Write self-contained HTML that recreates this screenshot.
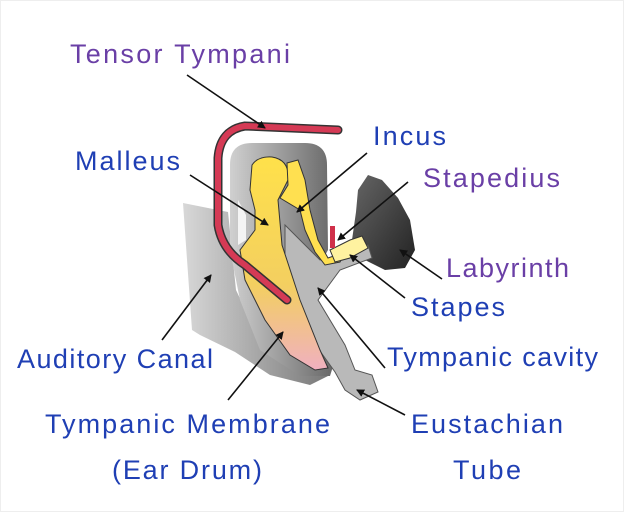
<!DOCTYPE html>
<html><head><meta charset="utf-8"><style>
html,body{margin:0;padding:0;background:#fff;}
svg{display:block;}
text{font-family:"Liberation Sans",sans-serif;font-size:27px;}
.b{fill:#1f3fb4}.p{fill:#6a3fa6}
</style></head><body>
<svg width="624" height="512" viewBox="0 0 624 512" xmlns="http://www.w3.org/2000/svg">
<defs>
<linearGradient id="g1" x1="0" y1="0" x2="1" y2="0"><stop offset="0" stop-color="#d8d8d8"/><stop offset="1" stop-color="#777"/></linearGradient>
<linearGradient id="g2" x1="0" y1="0" x2="1" y2="0"><stop offset="0" stop-color="#d0d0d0"/><stop offset="1" stop-color="#666"/></linearGradient>
<linearGradient id="gy" x1="0" y1="0" x2="0" y2="1"><stop offset="0" stop-color="#ffe14a"/><stop offset="0.6" stop-color="#f3cf60"/><stop offset="1" stop-color="#f0b0c0"/></linearGradient>
<linearGradient id="gl" x1="0" y1="0" x2="1" y2="1"><stop offset="0" stop-color="#666"/><stop offset="1" stop-color="#222"/></linearGradient>
<marker id="a" markerWidth="8" markerHeight="8" refX="7" refY="4" orient="auto" markerUnits="userSpaceOnUse"><path d="M0,0 L8,4 L0,8z" fill="#111"/></marker>
</defs>
<rect x="0.5" y="0.5" width="623" height="511" fill="#fff" stroke="#eee"/>
<path d="M183,203 L228,212 L236,290 L262,345 L300,372 L330,375 L310,385 L270,375 L235,352 L200,335 L192,330 Z" fill="url(#g1)"/>
<path d="M230,165 Q230,143 252,143 L305,143 Q327,143 327,165 L328,250 L300,300 L335,360 L330,376 L300,376 L260,350 L240,300 L230,250 Z" fill="url(#g2)"/>
<path d="M238,200 L246,215 L246,240 L238,245 Z" fill="#f4f4f4"/>
<path d="M368,175 L382,180 L398,198 L410,220 L415,250 L405,268 L385,270 L365,260 L352,240 L356,212 L358,190 Z" fill="url(#gl)"/>
<path d="M285,225 L320,260 L345,255 L368,245 L372,258 L340,270 L318,300 L345,345 L355,370 L372,375 L378,392 L360,400 L345,390 L335,372 L305,330 L285,280 Z" fill="#b9b9b9" stroke="#555" stroke-width="1"/>
<path d="M252,165 Q258,156 272,157 Q290,160 288,180 L278,200 L282,245 L300,300 L320,350 L328,368 L315,370 L290,355 L265,320 L245,280 L240,250 L255,230 L255,210 L250,190 Z" fill="url(#gy)" stroke="#333" stroke-width="1"/>
<path d="M287,163 L298,160 L305,180 L310,210 L318,240 L328,258 L345,252 L340,262 L325,265 L315,252 L305,230 L300,210 L280,198 L288,185 Z" fill="#ffe050" stroke="#333" stroke-width="1"/>
<path d="M330,250 L350,240 L362,236 L368,248 L350,258 L335,262 Z" fill="#fff2a0" stroke="#333" stroke-width="1"/>
<rect x="330" y="226" width="5" height="22" fill="#d0304a"/>
<path d="M338,130 L245,126 Q220,130 218,158 L218,225 Q222,250 245,265 L287,300" fill="none" stroke="#333" stroke-width="9" stroke-linecap="round"/>
<path d="M338,130 L245,126 Q220,130 218,158 L218,225 Q222,250 245,265 L287,300" fill="none" stroke="#d53a55" stroke-width="6" stroke-linecap="round"/>
<g stroke="#111" stroke-width="1.6" fill="none" marker-end="url(#a)">
<line x1="187" y1="75" x2="265" y2="128"/>
<line x1="190" y1="175" x2="268" y2="225"/>
<line x1="367" y1="153" x2="297" y2="212"/>
<line x1="408" y1="182" x2="338" y2="240"/>
<line x1="442" y1="279" x2="400" y2="250"/>
<line x1="405" y1="298" x2="350" y2="255"/>
<line x1="385" y1="368" x2="318" y2="288"/>
<line x1="162" y1="340" x2="211" y2="275"/>
<line x1="228" y1="400" x2="283" y2="332"/>
<line x1="405" y1="415" x2="357" y2="390"/>
</g>
<text class="p" x="70" y="63" textLength="220">Tensor Tympani</text>
<text class="b" x="75" y="170" textLength="105">Malleus</text>
<text class="b" x="373" y="145" textLength="73">Incus</text>
<text class="p" x="423" y="187" textLength="137">Stapedius</text>
<text class="p" x="446" y="277" textLength="123">Labyrinth</text>
<text class="b" x="411" y="316" textLength="94">Stapes</text>
<text class="b" x="387" y="366" textLength="211">Tympanic cavity</text>
<text class="b" x="17" y="368" textLength="196">Auditory Canal</text>
<text class="b" x="45" y="433" textLength="285">Tympanic Membrane</text>
<text class="b" x="112" y="479" textLength="150">(Ear Drum)</text>
<text class="b" x="411" y="433" textLength="152">Eustachian</text>
<text class="b" x="453" y="479" textLength="68">Tube</text>
</svg>
</body></html>
